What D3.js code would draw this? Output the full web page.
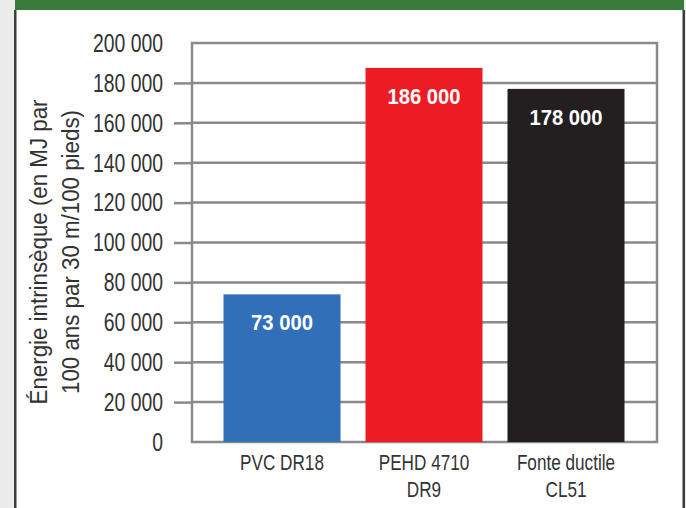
<!DOCTYPE html>
<html><head><meta charset="utf-8">
<script src="https://cdn.jsdelivr.net/npm/d3@7"></script>
<style>
html,body{margin:0;padding:0;background:#ececec;}
svg{display:block;}
text{font-family:"Liberation Sans",Arial,sans-serif;}
</style></head>
<body>
<script>
const categories = [["PVC DR18"], ["PEHD 4710", "DR9"], ["Fonte ductile", "CL51"]];
const values = [74000, 187500, 177000];
const valueLabels = ["73 000", "186 000", "178 000"];
const barColors = ["#3170b8", "#ed1c24", "#231f20"];
const yTicks = [0, 20000, 40000, 60000, 80000, 100000, 120000, 140000, 160000, 180000, 200000];
const yTitle = ["Énergie intrinsèque (en MJ par", "100 ans par 30 m/100 pieds)"];

const W = 686, H = 508;
const FONT = "'Liberation Sans',Arial,sans-serif";
const svg = d3.select("body").append("svg").attr("width", W).attr("height", H);

// background panel
svg.append("rect").attr("x", 0).attr("y", 0).attr("width", W).attr("height", H).attr("fill", "#ececec");
svg.append("rect").attr("x", 15).attr("y", 0).attr("width", 669).attr("height", H).attr("fill", "#ffffff");
svg.append("rect").attr("x", 15).attr("y", 0).attr("width", 669).attr("height", 10).attr("fill", "#3a7a3b");
svg.append("rect").attr("x", 14).attr("y", 10).attr("width", 2.5).attr("height", H - 10).attr("fill", "#3d3d3d");
svg.append("rect").attr("x", 682.5).attr("y", 10).attr("width", 2.5).attr("height", H - 10).attr("fill", "#3d3d3d");

const frame = {left: 192, right: 657, top: 43, bottom: 442};
const y = d3.scaleLinear().domain([0, 200000]).range([frame.bottom, frame.top]);
const x = d3.scaleBand().domain(d3.range(categories.length)).range([211, 637]).paddingInner(0.176).paddingOuter(0.088);

const fmt = v => d3.format(",")(v).replace(/,/g, " ");

// gridlines
svg.append("g").selectAll("line").data(yTicks.filter(t => t > 0 && t < 200000)).join("line")
  .attr("x1", frame.left).attr("x2", frame.right)
  .attr("y1", d => y(d)).attr("y2", d => y(d))
  .attr("stroke", "#8a8a8a").attr("stroke-width", 2.5);

// frame
svg.append("rect").attr("x", frame.left).attr("y", frame.top)
  .attr("width", frame.right - frame.left).attr("height", frame.bottom - frame.top)
  .attr("fill", "none").attr("stroke", "#8a8a8a").attr("stroke-width", 2.5);

// y axis
const yAxis = svg.append("g").attr("transform", `translate(${frame.left},0)`)
  .call(d3.axisLeft(y).tickValues(yTicks).tickSize(18).tickPadding(11).tickFormat(fmt));
yAxis.select(".domain").remove();
yAxis.selectAll(".tick line").attr("stroke", "#8a8a8a").attr("stroke-width", 2.5)
  .filter(d => d === 0 || d === 200000).remove();
yAxis.selectAll(".tick text").attr("fill", "#333").attr("font-size", 26)
  .attr("font-family", FONT)
  .attr("x", 0).attr("transform", "translate(-29,0) scale(0.745,1)");

// bars
svg.append("g").selectAll("rect").data(values).join("rect")
  .attr("x", (d, i) => x(i)).attr("width", x.bandwidth())
  .attr("y", d => y(d)).attr("height", d => y(0) - y(d))
  .attr("fill", (d, i) => barColors[i]);

// value labels
svg.append("g").selectAll("text").data(values).join("text")
  .attr("transform", (d, i) => `translate(${x(i) + x.bandwidth() / 2},${y(d) + 36}) scale(0.92,1)`)
  .attr("text-anchor", "middle").attr("fill", "#fff")
  .attr("font-weight", "bold").attr("font-size", 22)
  .text((d, i) => valueLabels[i]);

// category labels
const cat = svg.append("g").selectAll("text").data(categories).join("text")
  .attr("text-anchor", "middle").attr("fill", "#333").attr("font-size", 22)
  .attr("transform", (d, i) => `translate(${x(i) + x.bandwidth() / 2},470) scale(0.78,1)`);
cat.selectAll("tspan").data(d => d).join("tspan")
  .attr("x", 0).attr("dy", (d, j) => j === 0 ? 0 : 27).text(d => d);

// y title
const t = svg.append("text").attr("transform", "translate(47,252) rotate(-90) scale(0.93,1)")
  .attr("text-anchor", "middle").attr("fill", "#333").attr("font-size", 24);
t.selectAll("tspan").data(yTitle).join("tspan")
  .attr("x", 0).attr("dy", (d, j) => j === 0 ? 0 : 32).text(d => d);
</script>
</body></html>
